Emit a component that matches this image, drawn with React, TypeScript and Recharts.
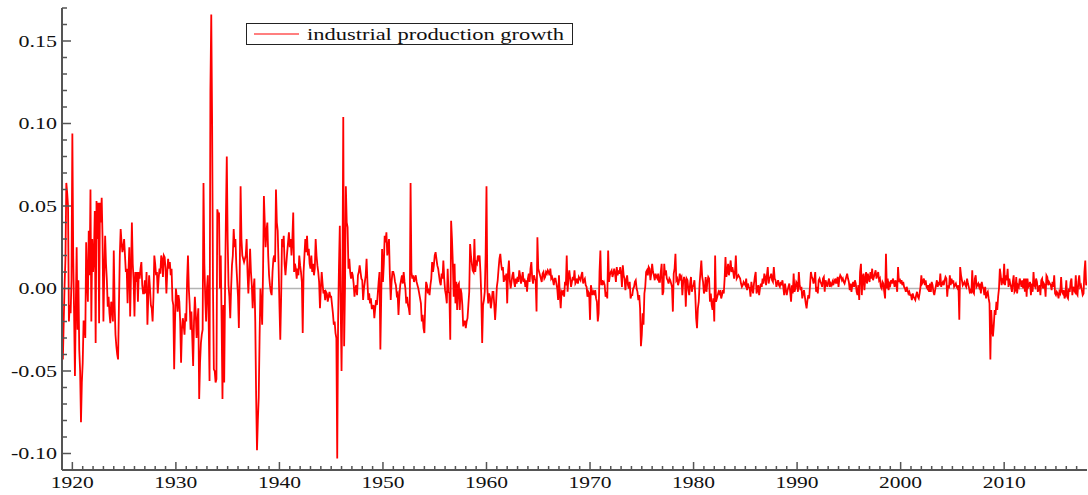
import { LineChart, Line, XAxis, YAxis, ReferenceLine, Legend } from "recharts"

const COLORS = {
  series: "#FF0000",
  axis:   "#555555",
  text:   "#111111",
  zero:   "#B4B4B4",
}

const FONT = "'Liberation Serif', 'Times New Roman', serif"

// monthly growth, Feb 1919 .. Dec 1929
const ip1919to1929 = [
  -0.043, -0.02, 0.002, 0.018, 0.064, 0.058, 0.05, -0.02, -0.01, -0.015, 0.005,
  0.094, 0.02, -0.015, -0.053, -0.01, 0.025, -0.025, 0.005, -0.037, -0.05, -0.081, -0.057,
  -0.045, -0.02, -0.02, -0.03, 0.028, 0.005, -0.008, 0.035, 0.008, 0.06, -0.02, 0.03,
  0.01, 0.02, 0.047, -0.033, 0.053, 0.03, 0.052, -0.021, 0.052, 0.04, 0.055, 0.03,
  -0.02, 0.01, 0.032, 0.015, 0.005, -0.011, -0.005, -0.015, -0.021, -0.008, -0.012, -0.02,
  0.023, -0.01, -0.028, -0.035, -0.04, -0.043, -0.01, 0.02, 0.036, 0.028, 0.022, 0.025,
  0.03, 0.02, 0.01, 0.012, -0.009, 0.01, 0.025, -0.017, 0.01, 0.04, 0.015, 0.005,
  -0.017, 0.01, 0.004, 0.01, -0.008, 0.01, 0.006, 0.012, 0.016, 0.002, -0.003, -0.003,
  0.005, -0.003, 0.01, -0.022, -0.005, 0.008, 0.0, -0.01, -0.012, -0.02, -0.005, 0.02,
  0.015, 0.008, 0.01, -0.003, 0.006, 0.012, 0.009, 0.02, 0.018, 0.007, 0.02, 0.019,
  0.012, -0.003, 0.01, 0.018, 0.012, 0.016, 0.008, 0.012, -0.007, -0.01, -0.049, -0.02,
]

const ip1930s = [
  0.0, -0.005, -0.014, -0.004, -0.008, -0.02, -0.045, -0.025, -0.018, -0.022, -0.028, -0.015,
  -0.02, 0.005, 0.02, 0.0, -0.01, -0.025, -0.014, -0.03, -0.047, -0.02, -0.005, -0.015,
  -0.03, -0.02, -0.012, -0.067, -0.045, -0.033, -0.028, -0.025, 0.064, 0.015, -0.005, -0.02,
  0.0, 0.008, -0.02, -0.056, 0.12, 0.166, 0.1, 0.0, -0.049, -0.05, -0.057, -0.055,
  0.048, 0.045, 0.046, 0.0, 0.02, -0.02, -0.067, -0.01, -0.057, 0.0, 0.044, 0.08,
  0.03, 0.002, -0.005, -0.018, 0.0, 0.014, 0.02, 0.036, 0.025, 0.03, 0.015, 0.005,
  -0.005, -0.024, 0.01, 0.062, 0.03, 0.02, 0.018, 0.016, 0.018, 0.02, 0.03, 0.01,
  -0.003, 0.01, 0.024, 0.01, 0.002, -0.012, 0.0, 0.006, -0.02, -0.065, -0.098, -0.08,
  -0.066, -0.03, 0.0, -0.01, -0.022, 0.01, 0.056, 0.04, 0.025, 0.035, 0.04, 0.02,
  0.008, 0.002, -0.002, -0.004, 0.01, 0.018, 0.02, 0.016, 0.06, 0.04, 0.035, 0.015,
]

const ip1940s = [
  -0.01, -0.031, -0.005, 0.03, 0.025, 0.032, 0.015, 0.008, 0.015, 0.022, 0.028, 0.034,
  0.025, 0.03, 0.02, 0.03, 0.046, 0.01, 0.015, 0.012, 0.006, 0.012, 0.008, 0.02,
  0.014, 0.01, 0.004, -0.027, 0.01, 0.02, 0.03, 0.022, 0.032, 0.02, 0.024, 0.015,
  0.012, 0.02, 0.01, 0.015, 0.008, 0.012, 0.03, 0.02, 0.014, 0.01, 0.004, -0.012,
  0.0, 0.01, 0.003, -0.003, -0.001, -0.007, -0.002, -0.003, -0.008, -0.005, -0.002, -0.005,
  -0.005, -0.01, -0.015, -0.022, -0.02, -0.027, -0.03, -0.103, -0.02, 0.013, 0.038, -0.01,
  -0.05, 0.0, 0.104, -0.035, 0.0, 0.062, 0.04, 0.037, 0.012, 0.018, 0.01, 0.006,
  0.01, 0.008, 0.003, -0.005, 0.0, 0.002, -0.004, 0.008, 0.01, 0.014, 0.01, 0.006,
  0.005, -0.007, 0.0, 0.004, 0.008, 0.018, 0.004, -0.007, -0.003, -0.009, -0.006, -0.012,
  -0.012, -0.01, -0.018, -0.012, -0.007, -0.01, -0.003, 0.004, 0.01, -0.037, -0.005, 0.024,
]

const ip1950s = [
  0.004, 0.015, 0.032, 0.028, 0.034, 0.02, 0.025, 0.03, 0.008, -0.007, 0.004, 0.01,
  0.01, 0.008, 0.004, 0.002, -0.004, -0.003, -0.016, -0.005, 0.002, 0.005, 0.008, 0.003,
  0.01, 0.004, 0.0, -0.009, -0.005, -0.01, -0.012, -0.016, 0.064, 0.01, 0.006, 0.008,
  0.004, 0.006, 0.008, 0.004, 0.002, 0.0, -0.003, -0.006, -0.009, -0.02, -0.016, -0.024,
  -0.027, -0.01, 0.004, 0.002, -0.003, 0.0, -0.004, 0.002, 0.006, 0.016, 0.01, 0.014,
  0.02, 0.022, 0.018, 0.014, 0.012, 0.008, 0.004, 0.002, 0.009, 0.006, 0.017, 0.006,
  -0.001, -0.004, -0.009, 0.012, -0.002, -0.003, -0.031, 0.041, 0.03, 0.015, -0.005, 0.015,
  -0.009, 0.004, -0.013, 0.002, 0.003, -0.013, 0.0, -0.003, -0.01, -0.023, -0.02, -0.02,
  -0.024, -0.02, -0.018, -0.01, -0.002, 0.027, 0.02, 0.015, 0.011, 0.01, 0.03, 0.01,
  0.016, 0.015, 0.02, 0.018, 0.02, 0.01, -0.005, -0.033, -0.01, -0.007, -0.002, 0.02,
]

const ip1960s = [
  0.062, 0.0, -0.009, -0.003, -0.005, -0.012, -0.008, -0.002, -0.002, -0.01, -0.019, -0.01,
  0.001, 0.005, 0.012, 0.018, 0.021, 0.015, 0.011, 0.013, 0.004, 0.008, 0.005, 0.009,
  -0.009, 0.01, 0.017, 0.005, 0.0, 0.004, 0.008, 0.01, 0.004, 0.001, 0.006, 0.003,
  0.007, 0.004, 0.011, 0.008, 0.003, 0.006, 0.01, 0.004, 0.006, 0.001, 0.005, -0.002,
  0.006, 0.009, 0.004, 0.012, 0.016, 0.006, 0.003, 0.008, 0.006, 0.005, -0.014, 0.031,
  0.012, 0.01, 0.008, 0.006, 0.004, 0.009, 0.01, 0.006, 0.007, 0.01, 0.009, 0.011,
  0.01, 0.008, 0.012, 0.006, 0.007, 0.005, 0.002, 0.006, 0.006, 0.003, 0.0, -0.007,
  0.008, -0.004, -0.012, -0.002, -0.003, -0.001, -0.005, 0.004, 0.002, 0.02, -0.002, 0.007,
  0.011, 0.006, 0.001, 0.004, 0.007, 0.005, 0.011, 0.003, 0.004, 0.006, 0.003, 0.007,
  0.006, 0.005, 0.008, 0.01, 0.003, 0.005, 0.006, 0.002, 0.001, -0.005, -0.002, -0.003,
]

const ip1970s = [
  -0.019, 0.002, -0.001, -0.004, -0.002, -0.003, -0.001, -0.006, -0.008, -0.02, -0.015, 0.01,
  0.023, 0.002, 0.005, 0.003, 0.004, 0.002, -0.005, -0.002, -0.006, 0.023, 0.004, 0.008,
  0.01, 0.011, 0.007, 0.009, 0.012, 0.009, 0.004, 0.013, 0.008, 0.011, 0.009, 0.013,
  0.009, 0.001, 0.014, 0.008, 0.006, -0.001, 0.005, 0.008, 0.002, 0.0, 0.004, -0.006,
  -0.004, -0.004, 0.0, 0.001, 0.004, 0.005, 0.0, -0.002, -0.007, -0.004, -0.012, -0.035,
  -0.028, -0.015, -0.022, -0.003, 0.001, 0.01, 0.011, 0.008, 0.013, 0.012, 0.005, 0.009,
  0.015, 0.01, 0.008, 0.005, 0.009, 0.007, 0.006, 0.009, 0.004, 0.004, 0.01, 0.015,
  -0.004, -0.002, 0.015, 0.008, 0.011, 0.006, 0.005, 0.003, 0.006, 0.005, 0.003, 0.001,
  -0.014, 0.009, 0.012, 0.021, 0.005, 0.006, 0.002, 0.004, 0.009, 0.006, 0.007, -0.004,
  0.004, 0.007, 0.005, -0.011, 0.006, 0.005, -0.001, -0.004, 0.003, 0.007, -0.002, 0.001,
]

const ip1980s = [
  0.002, 0.005, -0.004, -0.018, -0.024, -0.012, -0.008, 0.003, 0.01, 0.017, 0.007, 0.004,
  -0.003, -0.001, 0.007, -0.002, 0.004, 0.007, 0.006, -0.008, -0.003, -0.01, -0.013, -0.006,
  -0.02, 0.02, -0.008, -0.006, -0.004, -0.002, -0.003, -0.001, -0.006, -0.004, -0.001, -0.003,
  0.006, 0.019, 0.007, 0.01, 0.015, 0.008, 0.012, 0.017, 0.01, 0.013, 0.01, 0.006,
  0.01, 0.02, 0.006, 0.007, 0.008, 0.007, 0.006, 0.003, 0.001, 0.002, 0.004, 0.003,
  0.002, 0.006, -0.001, 0.003, 0.001, 0.0, -0.005, 0.004, 0.0, -0.003, 0.003, 0.007,
  0.01, -0.003, -0.001, 0.002, -0.004, 0.0, 0.003, 0.001, 0.006, 0.003, 0.009, 0.007,
  0.002, 0.008, 0.013, 0.003, 0.006, 0.007, 0.009, 0.005, 0.004, 0.013, 0.006, 0.005,
  0.001, 0.003, 0.005, 0.002, 0.001, 0.004, 0.002, 0.005, 0.001, -0.004, 0.003, -0.001,
  -0.004, -0.001, 0.001, 0.003, -0.002, -0.008, 0.002, -0.003, 0.009, -0.002, 0.0, 0.004,
]

const ip1990s = [
  0.003, -0.002, 0.01, 0.002, -0.001, 0.001, -0.006, -0.003, -0.001, -0.005, -0.009, -0.012,
  -0.007, -0.004, -0.006, 0.002, 0.01, 0.007, 0.006, 0.003, 0.005, 0.01, -0.002, 0.001,
  -0.003, 0.005, 0.006, 0.004, 0.003, 0.001, 0.006, 0.007, -0.002, 0.005, 0.003, 0.001,
  0.004, 0.006, 0.001, 0.003, 0.002, 0.004, 0.002, 0.005, 0.004, 0.006, 0.003, 0.007,
  0.001, 0.006, 0.008, 0.007, 0.005, 0.006, 0.004, 0.003, 0.005, 0.007, 0.009, 0.006,
  0.004, -0.001, 0.003, -0.002, 0.002, 0.004, 0.001, 0.005, 0.003, -0.002, -0.004, 0.002,
  -0.007, 0.01, 0.015, -0.004, 0.007, 0.009, -0.001, 0.006, 0.01, 0.003, 0.009, 0.006,
  0.004, 0.01, 0.006, 0.012, 0.005, 0.007, 0.009, 0.011, 0.006, 0.008, 0.01, 0.005,
  0.006, 0.001, 0.0, 0.004, 0.003, -0.002, -0.006, 0.021, 0.0, 0.006, -0.001, 0.003,
  0.002, 0.005, 0.003, 0.006, 0.004, 0.001, 0.005, 0.003, -0.002, 0.013, 0.004, 0.006,
]

const ip2000s = [
  0.003, 0.005, 0.002, 0.004, 0.001, 0.0, -0.002, 0.001, -0.001, -0.003, -0.002, -0.004,
  -0.004, -0.007, -0.003, -0.005, -0.006, -0.007, -0.004, -0.002, -0.005, -0.006, -0.003, 0.001,
  0.008, 0.003, 0.004, 0.006, 0.002, 0.005, 0.001, 0.0, 0.002, -0.002, 0.003, -0.002,
  0.004, 0.002, -0.002, -0.004, -0.001, 0.002, 0.005, 0.001, 0.004, 0.002, 0.009, 0.001,
  0.003, 0.004, 0.002, 0.005, 0.007, 0.006, -0.005, 0.002, 0.0, 0.008, 0.002, 0.006,
  0.003, 0.005, 0.001, 0.002, 0.003, 0.001, 0.0, 0.002, -0.019, 0.013, 0.008, 0.005,
  0.002, 0.003, 0.004, 0.002, 0.001, 0.006, 0.003, 0.001, -0.002, -0.001, -0.003, 0.011,
  -0.002, -0.003, 0.006, 0.008, 0.001, 0.002, 0.003, 0.001, 0.003, -0.003, 0.004, 0.001,
  0.0, -0.004, 0.001, -0.006, -0.003, -0.002, -0.006, -0.009, -0.043, -0.013, -0.024, -0.029,
  -0.022, -0.013, -0.016, -0.008, -0.013, -0.005, 0.0, 0.012, 0.008, 0.002, 0.005, 0.004,
]

// Jan 2010 .. Jan 2018
const ip2010s = [
  0.015, 0.002, 0.008, 0.005, 0.012, 0.001, 0.006, 0.003, 0.001, -0.002, 0.004, 0.008,
  -0.002, -0.001, 0.007, -0.003, 0.002, 0.001, 0.006, 0.004, 0.001, 0.005, 0.0, 0.006,
  -0.002, 0.006, -0.005, 0.006, 0.001, 0.002, 0.004, -0.004, 0.003, -0.002, 0.01, 0.002,
  0.001, 0.006, 0.004, -0.002, 0.0, 0.002, -0.004, 0.005, 0.006, 0.0, 0.003, 0.002,
  -0.005, 0.008, 0.007, 0.002, 0.004, 0.003, 0.002, -0.001, 0.004, 0.001, 0.008, -0.003,
  -0.004, -0.002, -0.003, -0.006, -0.002, -0.003, 0.007, -0.002, -0.003, -0.001, -0.006, -0.004,
  0.005, -0.005, -0.006, 0.0, -0.002, 0.004, 0.006, -0.004, 0.001, -0.001, -0.002, 0.008,
  -0.003, -0.004, 0.004, 0.008, 0.001, 0.002, -0.001, -0.004, -0.003, 0.01, 0.017, 0.002,
  0.004,
]

const FIRST_YEAR = 1919
const LAST_YEAR = 2018
const xLabelYears = [1920, 1930, 1940, 1950, 1960, 1970, 1980, 1990, 2000, 2010]
const yLabelValues = [-0.1, -0.05, 0, 0.05, 0.1, 0.15]
const yDomain: [number, number] = [-0.11, 0.17]

const growth = [
  ...ip1919to1929, ...ip1930s, ...ip1940s, ...ip1950s, ...ip1960s,
  ...ip1970s, ...ip1980s, ...ip1990s, ...ip2000s, ...ip2010s,
]

// first value is February 1919
const data = growth.map((v, i) => ({ t: FIRST_YEAR + (i + 1) / 12, ip: v }))

const xTicks = Array.from({ length: LAST_YEAR - FIRST_YEAR }, (_, i) => FIRST_YEAR + i)
const yTicks = Array.from({ length: 29 }, (_, i) => (i - 11) / 100)

function XTick({ x, y, payload }: { x: number; y: number; payload: { value: number } }) {
  const yr = payload.value
  const major = xLabelYears.includes(yr)
  return (
    <g>
      <line x1={x} x2={x} y1={y} y2={y - (major ? 8 : 4)} stroke={COLORS.axis} strokeWidth={1.5} />
      {major && (
        <text
          x={x}
          y={y + 17.5}
          textAnchor="middle"
          textLength={43}
          lengthAdjust="spacingAndGlyphs"
          fontFamily={FONT}
          fontSize={16.5}
          fill={COLORS.text}
        >
          {yr}
        </text>
      )}
    </g>
  )
}

function YTick({ x, y, payload }: { x: number; y: number; payload: { value: number } }) {
  const v = payload.value
  const major = yLabelValues.some(m => Math.abs(m - v) < 1e-9)
  const label = v.toFixed(2)
  return (
    <g>
      <line x1={x} x2={x + (major ? 9 : 5)} y1={y} y2={y} stroke={COLORS.axis} strokeWidth={1.5} />
      {major && (
        <text
          x={x - 5}
          y={y}
          dy="0.35em"
          textAnchor="end"
          textLength={v < 0 ? 46 : 38.5}
          lengthAdjust="spacingAndGlyphs"
          fontFamily={FONT}
          fontSize={16.5}
          fill={COLORS.text}
        >
          {label}
        </text>
      )}
    </g>
  )
}

function LegendBox() {
  return (
    <svg width={328} height={23} style={{ display: "block" }}>
      <rect x={0.5} y={0.5} width={326} height={21} fill="#fff" stroke="#222" strokeWidth={1} />
      <line x1={8} x2={53} y1={11} y2={11} stroke={COLORS.series} strokeWidth={1.2} />
      <text
        x={61}
        y={16.5}
        textLength={257}
        lengthAdjust="spacingAndGlyphs"
        fontFamily={FONT}
        fontSize={16}
        fill={COLORS.text}
      >
        industrial production growth
      </text>
    </svg>
  )
}

export default function App() {
  return (
    <div style={{ position: "absolute", left: 0, top: 0, width: 1088, height: 495, background: "#fff" }}>
      <LineChart width={1088} height={495} data={data} margin={{ top: 8, right: 1, bottom: 0, left: 0 }}>
        <XAxis
          type="number"
          dataKey="t"
          domain={[FIRST_YEAR, LAST_YEAR]}
          ticks={xTicks}
          interval={0}
          height={25}
          tickSize={0}
          tickMargin={0}
          tickLine={false}
          axisLine={{ stroke: COLORS.axis, strokeWidth: 2 }}
          tick={XTick}
          allowDataOverflow
        />
        <YAxis
          type="number"
          domain={yDomain}
          ticks={yTicks}
          interval={0}
          width={62}
          tickSize={0}
          tickMargin={0}
          tickLine={false}
          axisLine={{ stroke: COLORS.axis, strokeWidth: 2 }}
          tick={YTick}
          allowDataOverflow
        />
        <ReferenceLine y={0} stroke={COLORS.zero} strokeWidth={1.5} />
        <Line
          type="linear"
          dataKey="ip"
          name="industrial production growth"
          stroke={COLORS.series}
          strokeWidth={1.8}
          dot={false}
          activeDot={false}
          isAnimationActive={false}
        />
        <Legend
          layout="vertical"
          verticalAlign="middle"
          align="center"
          wrapperStyle={{ left: 246, top: 22.5, width: 328, height: 23 }}
          content={() => <LegendBox />}
        />
      </LineChart>
    </div>
  )
}
